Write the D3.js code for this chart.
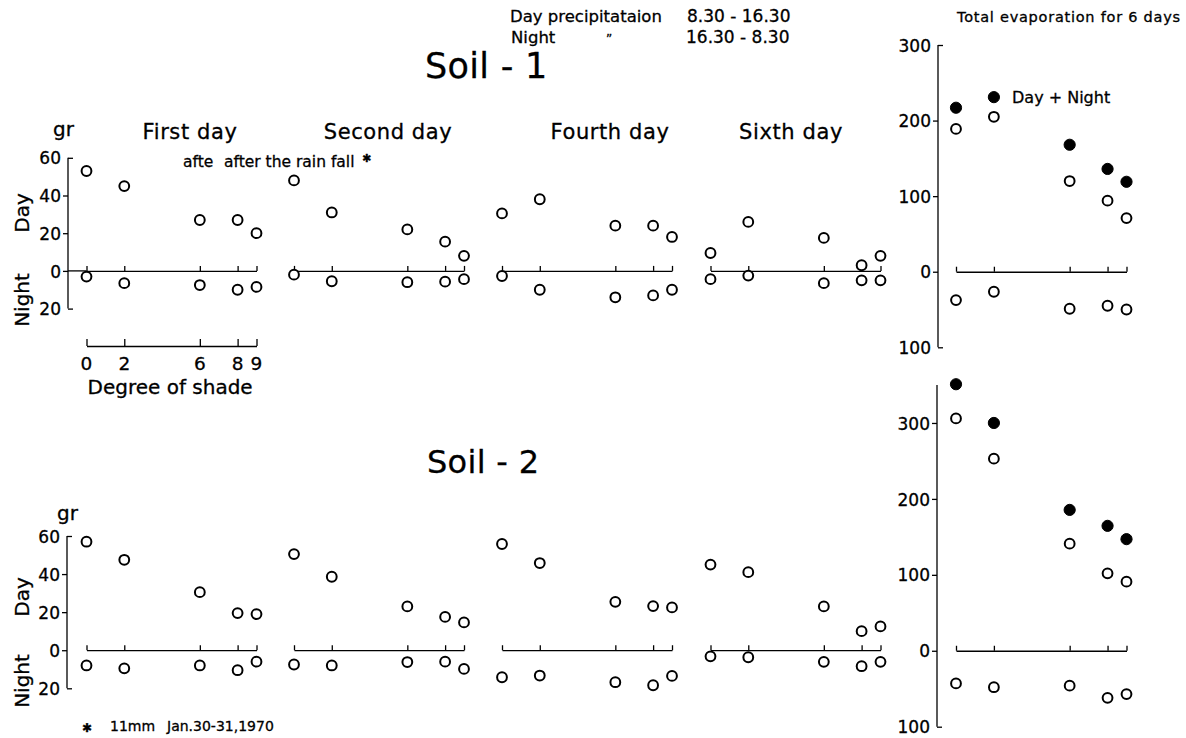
<!DOCTYPE html>
<html>
<head>
<meta charset="utf-8">
<script src="https://cdn.jsdelivr.net/npm/d3@7"></script>
<style>
  html, body { margin: 0; padding: 0; background: #fff; }
  svg { display: block; }
  text { font-family: "DejaVu Sans", sans-serif; fill: #000; stroke: #000; stroke-width: 0.3px; }
</style>
</head>
<body>
<svg id="chart" width="1186" height="738"></svg>
<script>
// Degree of shade (x categories, shared by every panel)
const shadeDegrees = [0, 2, 6, 8, 9];
const dayTitles = ["First day", "Second day", "Fourth day", "Sixth day"];

// Evaporation, gr — one row per day panel, one value per shade degree
const soil1Day = [
  [53, 45, 27, 27, 20],
  [48, 31, 22, 15.5, 8],
  [30.5, 38, 24, 24, 18],
  [9.5, 26, 17.5, 3, 8]
];
const soil1Night = [
  [3, 6.5, 7.5, 10, 8.5],
  [2, 5.5, 6, 5.7, 4.4],
  [2.7, 10, 14, 13, 10],
  [4.4, 2.5, 6.5, 5, 5]
];
const soil2Day = [
  [57, 47.5, 30.5, 19.5, 19],
  [50.5, 38.6, 23, 17.5, 14.6],
  [55.8, 45.8, 25.4, 23.2, 22.5],
  [45, 41, 23, 10, 12.5]
];
const soil2Night = [
  [8, 9.5, 8, 10.5, 6],
  [7.5, 8, 6.2, 6, 9.8],
  [14.2, 13.3, 16.8, 18.4, 13.5],
  [3.2, 3.7, 6.1, 8.4, 6.1]
];

// Total evaporation for 6 days
const total1Sum = [217, 231, 168, 136, 119];
const total1Day = [189, 205, 120, 94, 71];
const total1Night = [37.5, 26.5, 49, 45, 50];
const total2Sum = [351, 300, 185.5, 164.5, 147];
const total2Day = [306, 253, 141, 102, 91];
const total2Night = [43, 48, 46, 62, 57];

// Tick labels
const dayAxisTicks = [-20, 0, 20, 40, 60];
const totalAxisTicks1 = [-100, 0, 100, 200, 300];
const totalAxisTicks2 = [-100, 0, 100, 200, 300];

const svg = d3.select("#chart");
const STROKE = 1.3;

function text(x, y, s, size, opts = {}) {
  const t = svg.append("text")
    .attr("x", x).attr("y", y)
    .attr("font-size", size)
    .attr("text-anchor", opts.anchor || "start")
    .text(s);
  if (opts.spacing) t.attr("letter-spacing", opts.spacing);
  if (opts.rotate) t.attr("transform", `rotate(-90, ${x}, ${y})`);
  if (opts.baseline) t.attr("dominant-baseline", opts.baseline);
  return t;
}

// Vertical value axis: left ticks inside, right-pointing brackets at the ends
function valueAxis(x, y, ticks, size, bracketTop, bracketBottom) {
  const g = svg.append("g").attr("transform", `translate(${x},0)`);
  const ax = d3.axisLeft(y).tickValues(ticks).tickSize(5).tickSizeOuter(0)
    .tickFormat(d => Math.abs(d));
  g.call(ax);
  g.select(".domain").remove();
  const [y0, y1] = y.range();
  g.append("line").attr("x1", 0).attr("x2", 0).attr("y1", y0).attr("y2", y1)
    .attr("stroke", "#000").attr("stroke-width", STROKE);
  g.selectAll(".tick line").attr("stroke-width", STROKE);
  g.selectAll(".tick")
    .filter(d => (bracketTop && d === ticks[ticks.length - 1]) || (bracketBottom && d === ticks[0]))
    .select("line").attr("x2", 5);
  g.selectAll(".tick text")
    .attr("font-family", "DejaVu Sans, sans-serif")
    .attr("font-size", size).attr("x", -7).attr("dy", "0.36em");
  return g;
}

// Zero line with upward ticks at each degree of shade
function zeroLine(x, yZero, from) {
  const g = svg.append("g").attr("transform", `translate(0,${yZero})`);
  g.call(d3.axisTop(x).tickValues(shadeDegrees).tickSize(5).tickSizeOuter(0).tickFormat(""));
  g.selectAll("path, line").attr("stroke", "#000").attr("stroke-width", STROKE);
  if (from !== undefined) {
    g.append("line").attr("x1", from).attr("x2", x.range()[0]).attr("y1", 0).attr("y2", 0)
      .attr("stroke", "#000").attr("stroke-width", STROKE);
  }
}

function dots(x, y, values, sign, filled) {
  svg.append("g").selectAll("circle").data(values).join("circle")
    .attr("cx", (d, i) => x(shadeDegrees[i]))
    .attr("cy", d => y(sign * d))
    .attr("r", filled ? 5.6 : 4.9)
    .attr("fill", filled ? "#000" : "#fff")
    .attr("stroke", "#000")
    .attr("stroke-width", filled ? 1 : 2);
}

// ---- header ----
text(510, 22, "Day precipitataion", 16.5);
text(687, 22, "8.30 - 16.30", 17);
text(511, 43, "Night", 16.5);
text(606, 43, "\u201D", 12);
text(686, 43, "16.30 -  8.30", 17);

// ---- day panels for both soils ----
const panelX0 = [86.5, 294, 502, 710.5];
const titleX = [190, 388, 610, 791];

const soils = [
  { name: "Soil - 1", nameX: 425, nameY: 78, nameSize: 35, grY: 136, grX: 53,
    y: d3.scaleLinear().domain([-20, 60]).range([308.6, 157.8]),
    day: soil1Day, night: soil1Night, axisX: 68, labelX: 21.5, dayC: 213, nightC: 300 },
  { name: "Soil - 2", nameX: 427, nameY: 473, nameSize: 32, grY: 520, grX: 57,
    y: d3.scaleLinear().domain([-20, 60]).range([688.3, 536]),
    day: soil2Day, night: soil2Night, axisX: 67, labelX: 21.5, dayC: 597, nightC: 681 }
];

soils.forEach((s, si) => {
  text(s.nameX, s.nameY, s.name, s.nameSize, { spacing: 0.3 });
  text(s.grX, s.grY, "gr", 20);
  valueAxis(s.axisX, s.y, dayAxisTicks, 17, true, true);
  text(s.labelX, s.dayC, "Day", 20, { anchor: "middle", rotate: true, baseline: "central" });
  text(s.labelX, s.nightC, "Night", 20, { anchor: "middle", rotate: true, baseline: "central" });

  panelX0.forEach((x0, pi) => {
    const x = d3.scaleLinear().domain([0, 9]).range([x0, x0 + 170]);
    zeroLine(x, s.y(0), si === 0 && pi === 0 ? s.axisX : undefined);
    dots(x, s.y, s.day[pi], 1, false);
    dots(x, s.y, s.night[pi], -1, false);
  });
});

// Panel titles above Soil - 1 row
dayTitles.forEach((t, i) => text(titleX[i], 139, t, 21, { anchor: "middle", spacing: 0.6 }));

// Rain note
text(183, 167, "afte", 15.5);
text(224, 167, "after the rain fall", 15.5);
text(362, 162, "\u2731", 11);

// Degree-of-shade reference scale under the first Soil - 1 panel
{
  const x = d3.scaleLinear().domain([0, 9]).range([panelX0[0], panelX0[0] + 170]);
  const g = svg.append("g").attr("transform", "translate(0,346)");
  g.call(d3.axisTop(x).tickValues(shadeDegrees).tickSize(7).tickSizeOuter(0).tickFormat(""));
  g.selectAll("path, line").attr("stroke", "#000").attr("stroke-width", STROKE);
  svg.append("g").selectAll("text").data(shadeDegrees).join("text")
    .attr("x", d => x(d)).attr("y", 370)
    .attr("text-anchor", "middle").attr("font-size", 18.5)
    .text(d => d);
  text(x(0) + 1, 394, "Degree of shade", 20);
}

// ---- total evaporation panels ----
text(957, 22, "Total evaporation for 6 days", 14.5, { spacing: 0.75 });

const xTot = d3.scaleLinear().domain([0, 9]).range([956, 1126.5]);

const yTot1 = d3.scaleLinear().domain([-100, 300]).range([347.3, 45]);
valueAxis(938, yTot1, totalAxisTicks1, 17, true, true);
zeroLine(xTot, yTot1(0));
dots(xTot, yTot1, total1Day, 1, false);
dots(xTot, yTot1, total1Night, -1, false);
dots(xTot, yTot1, total1Sum, 1, true);
text(1012, 103, "Day + Night", 16);

const yTot2 = d3.scaleLinear().domain([-100, 350]).range([726.7, 385]);
valueAxis(937, yTot2, totalAxisTicks2, 17, false, true);
zeroLine(xTot, yTot2(0));
dots(xTot, yTot2, total2Day, 1, false);
dots(xTot, yTot2, total2Night, -1, false);
dots(xTot, yTot2, total2Sum, 1, true);

// ---- footnote ----
text(82, 732, "\u2731", 12);
text(110, 731, "11mm", 14);
text(167, 731, "Jan.30-31,1970", 14);
</script>
</body>
</html>
